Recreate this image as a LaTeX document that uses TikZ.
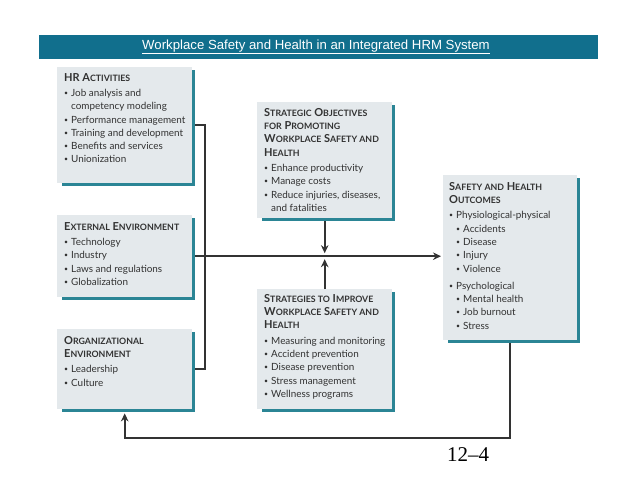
\documentclass[tikz,border=0pt]{standalone}
\usepackage{fontspec}
\setmainfont{Lato}
\newfontfamily\arialf{Liberation Sans}
\newfontfamily\timesf{Liberation Serif}
\usetikzlibrary{arrows.meta,calc}
\definecolor{banner}{RGB}{17,111,141}
\definecolor{boxfill}{RGB}{228,233,236}
\definecolor{shadowc}{RGB}{43,133,149}
\definecolor{txtc}{RGB}{50,50,50}
\definecolor{linec}{RGB}{51,51,51}
\newcommand\fsc[1]{{\fontsize{8.8}{9}\selectfont #1}}
\newcommand\hd[1]{{\fontsize{11}{13.3}\selectfont\bfseries #1}}
\newcommand\bl{\makebox[7pt][l]{\raisebox{0.2ex}{\scalebox{0.7}{•}}}}
\newcommand\ind{\hspace*{7pt}}
\newcommand\hrbox[5]{%
  \fill[shadowc] (#2+5,#3+3) rectangle (#2+#4+3,#3+#5+3);
  \node[box, minimum width=#4pt, minimum height=#5pt] (#1) at (#2,#3) {};
}
\begin{document}
\begin{tikzpicture}[x=1pt,y=-1pt,
  box/.style={fill=boxfill, draw=none, anchor=north west, inner sep=0pt},
  txt/.style={anchor=north west, inner sep=0pt, align=left, font=\fontsize{9.9}{13.3}\selectfont, text=txtc},
  conn/.style={draw=linec, line width=2pt},
  arr/.style={conn, -{Stealth[length=8pt,width=7.5pt]}}]
\useasboundingbox (0,0) rectangle (638,479);
\fill[white] (0,0) rectangle (638,479);
\node[fill=banner, minimum width=559pt, minimum height=24pt, inner sep=0pt, anchor=north west] (ban) at (39,35) {};
\node[font=\arialf\fontsize{13.2}{14}\selectfont, text=white] (title) at (316,47) {\underline{Workplace Safety and Health in an Integrated HRM System}};

\hrbox{hr}{57}{67}{135}{116}
\hrbox{ext}{57}{215}{135}{82}
\hrbox{org}{57}{329}{135}{80}
\hrbox{so}{257}{102}{135}{116}
\hrbox{st}{257}{289}{135}{120}
\hrbox{out}{443}{175}{134}{165}

\node[txt] (hrt) at ($(hr.north west)+(7,6)$) {\hd{HR A\fsc{CTIVITIES}}\\[2pt]
\bl Job analysis and\\
\ind competency modeling\\
\bl Performance management\\
\bl Training and development\\
\bl Benefits and services\\
\bl Unionization};

\node[txt] (extt) at ($(ext.north west)+(7,7)$) {\hd{E\fsc{XTERNAL} E\fsc{NVIRONMENT}}\\[2pt]
\bl Technology\\
\bl Industry\\
\bl Laws and regulations\\
\bl Globalization};

\node[txt] (orgt) at ($(org.north west)+(7,7)$) {\hd{O\fsc{RGANIZATIONAL}}\\
\hd{E\fsc{NVIRONMENT}}\\[2pt]
\bl Leadership\\
\bl Culture};

\node[txt] (sot) at ($(so.north west)+(7,6)$) {\hd{S\fsc{TRATEGIC} O\fsc{BJECTIVES}}\\
\hd{\fsc{FOR} P\fsc{ROMOTING}}\\
\hd{W\fsc{ORKPLACE} S\fsc{AFETY AND}}\\
\hd{H\fsc{EALTH}}\\[2pt]
\bl Enhance productivity\\
\bl Manage costs\\
\bl Reduce injuries, diseases,\\
\ind and fatalities};

\node[txt] (stt) at ($(st.north west)+(7,5)$) {\hd{S\fsc{TRATEGIES TO} I\fsc{MPROVE}}\\
\hd{W\fsc{ORKPLACE} S\fsc{AFETY AND}}\\
\hd{H\fsc{EALTH}}\\[2pt]
\bl Measuring and monitoring\\
\bl Accident prevention\\
\bl Disease prevention\\
\bl Stress management\\
\bl Wellness programs};

\node[txt] (outt) at ($(out.north west)+(6,7)$) {\hd{S\fsc{AFETY AND} H\fsc{EALTH}}\\
\hd{O\fsc{UTCOMES}}\\[2pt]
\bl Physiological-physical\\
\ind\bl Accidents\\
\ind\bl Disease\\
\ind\bl Injury\\
\ind\bl Violence\\[4pt]
\bl Psychological\\
\ind\bl Mental health\\
\ind\bl Job burnout\\
\ind\bl Stress};

\draw[conn] ($(hr.east)+(3,0)$) -| ($(org.east)+(13,0)$) -- ($(org.east)+(3,0)$);
\draw[arr, shorten >=2pt] ($(ext.east)+(3,0)$) -- (ext.east -| out.west);
\draw[arr, shorten >=3pt] ($(so.south)+(0,3)$) -- (so.south |- ext.east);
\draw[arr, shorten >=3pt] (st.north) -- (st.north |- ext.east);
\draw[arr, shorten >=1pt] ($(out.south)+(0,3)$) -- ++(0,95) -| ($(org.south)+(0,3)$);

\node[font=\timesf\fontsize{21}{21}\selectfont, text=black] (pg) at (468,455) {12–4};
\end{tikzpicture}
\end{document}
